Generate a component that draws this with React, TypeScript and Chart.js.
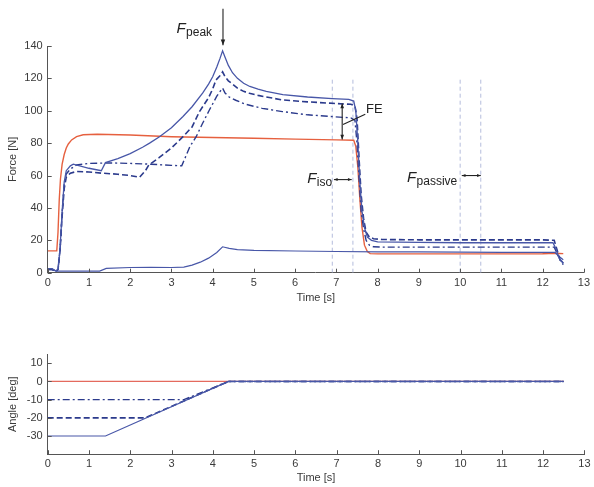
import React, { useEffect, useRef } from 'react';
import { Chart, registerables } from 'chart.js';
Chart.register(...registerables);

const FONT = '"Liberation Sans", Arial, Helvetica, sans-serif';

// ---------- Force traces (time [s], force [N]) ----------
const isoT = [0, 0.22, 0.25, 0.28, 0.31, 0.35, 0.4, 0.45, 0.5, 0.58, 0.7, 0.86, 1.2, 2, 3, 4, 5, 6, 7, 7.42, 7.47, 7.52, 7.57, 7.62, 7.68, 7.75, 7.82, 8, 9, 10, 11, 12, 12.3, 12.5];
const isoF = [13.5, 13.5, 25, 45, 58, 67, 73, 77, 79.5, 82, 84, 85.2, 85.5, 85, 84, 83.5, 83, 82.5, 82, 81.8, 78, 65, 45, 28, 17, 13, 11.8, 11.6, 11.6, 11.6, 11.6, 11.7, 12, 11.8];

const s30T = [0, 0.1, 0.2, 0.25, 0.3, 0.35, 0.4, 0.45, 0.55, 0.62, 1.0, 1.3, 1.4, 1.7, 2.0, 2.3, 2.47, 2.71, 3.0, 3.28, 3.5, 3.76, 3.9, 4.0, 4.1, 4.18, 4.24, 4.3, 4.38, 4.48, 4.6, 4.75, 4.9, 5.1, 5.3, 5.7, 6.3, 6.9, 7.3, 7.42, 7.47, 7.52, 7.57, 7.62, 7.68, 7.75, 7.85, 8.0, 9, 10, 11, 12, 12.25, 12.32, 12.4, 12.5];
const s30F = [2.5, 2.5, 1, 2, 15, 38, 56, 63, 66, 67, 64.5, 63, 68, 70.5, 73.5, 77.5, 80, 84, 89.5, 96.5, 102.5, 111, 116.5, 121, 127, 132.5, 137, 133, 128, 123.5, 120, 117, 115, 113.3, 112, 110, 108.5, 107.5, 107, 106, 100, 80, 55, 38, 28, 22, 20, 19, 18.7, 18.5, 18.5, 18.5, 18.5, 15, 9, 6];

const s20T = [0, 0.1, 0.2, 0.25, 0.3, 0.35, 0.4, 0.45, 0.55, 0.7, 1.0, 1.3, 1.7, 2.0, 2.23, 2.37, 2.45, 2.7, 3.0, 3.28, 3.5, 3.68, 3.9, 4.0, 4.08, 4.17, 4.24, 4.3, 4.38, 4.48, 4.6, 4.75, 4.89, 5.1, 5.3, 5.69, 6.3, 6.9, 7.35, 7.45, 7.5, 7.55, 7.6, 7.66, 7.72, 7.8, 7.9, 8.1, 9, 10, 11, 12, 12.28, 12.35, 12.42, 12.5];
const s20F = [2, 2, 0.8, 2, 14, 35, 52, 59, 61.5, 62.5, 62.2, 61.5, 60.8, 60, 59, 63, 66.5, 71, 77, 84, 90, 99.5, 108, 113.5, 119, 121.5, 124, 121, 118.5, 116.5, 114, 112, 110.8, 109.5, 108.5, 106.7, 105.5, 104.6, 104, 103, 95, 70, 48, 33, 25, 22, 21, 20.5, 20.3, 20.3, 20.3, 20.3, 20, 14, 8, 5];

const s10T = [0, 0.1, 0.2, 0.25, 0.3, 0.35, 0.4, 0.45, 0.55, 0.7, 1.0, 1.5, 2.0, 2.5, 3.0, 3.25, 3.35, 3.45, 3.6, 3.75, 3.92, 4.1, 4.18, 4.24, 4.3, 4.4, 4.56, 4.8, 5.2, 5.69, 6.3, 6.9, 7.35, 7.45, 7.5, 7.55, 7.6, 7.66, 7.72, 7.8, 7.9, 8.1, 9, 10, 11, 12, 12.28, 12.35, 12.42, 12.5];
const s10F = [2, 2, 0.8, 2, 14, 37, 55, 61, 64, 66.5, 67.5, 67.8, 67.5, 67, 66.3, 66, 72, 78, 84, 92, 100.5, 109, 112, 114, 111, 108.5, 106.5, 104, 101.5, 99.5, 97.5, 96.4, 95.6, 94, 80, 58, 38, 27, 20, 17, 16, 15.8, 15.8, 15.8, 15.8, 15.8, 15.8, 12, 8, 6];

const pasT = [0, 0.1, 0.2, 0.5, 1.0, 1.26, 1.42, 2.0, 2.5, 3.0, 3.3, 3.5, 3.7, 3.9, 4.1, 4.24, 4.4, 4.6, 5.0, 6, 7, 8, 9, 10, 11, 12, 12.3, 12.4, 12.5];
const pasF = [2.5, 2.5, 1, 1, 1, 1, 2.7, 3.2, 3.3, 3.2, 3.5, 4.7, 6.5, 9, 12.5, 16, 15, 14.2, 13.8, 13.4, 13.1, 12.9, 12.8, 12.7, 12.6, 12.6, 12.5, 10, 8];

// ---------- Angle traces (time [s], angle [deg]) ----------
const angIsoT = [0, 12.5];
const angIsoV = [0, 0];
const ang30T = [0, 1.4, 4.38, 12.5];
const ang30V = [-30, -30, 0, 0];
const ang20T = [0, 2.36, 4.38, 12.5];
const ang20V = [-20, -20, 0, 0];
const ang10T = [0, 3.3, 4.38, 12.5];
const ang10V = [-10, -10, 0, 0];

// ---------- Analysis windows (time [s]) ----------
const windowTimes = [6.9, 7.4, 10, 10.5];
const windowTop = 120;

// ---------- Ticks ----------
const timeTicks = [0, 1, 2, 3, 4, 5, 6, 7, 8, 9, 10, 11, 12, 13];
const forceTicks = [0, 20, 40, 60, 80, 100, 120, 140];
const angleTicks = [-30, -20, -10, 0, 10];

const zip = (t: number[], v: number[]) => t.map((x, i) => ({ x, y: v[i] }));

const RED = '#e6603f';
const BLUE_SOLID = '#4857a8';
const BLUE_DARK = '#2b3a8c';
const AXIS = '#555555';
const TXT = '#3a3a3a';

const innerTicks = {
  id: 'innerTicks',
  afterDraw(chart: any) {
    const ctx = chart.ctx;
    const xs = chart.scales.x;
    const ys = chart.scales.y;
    const a = chart.chartArea;
    ctx.save();
    ctx.strokeStyle = AXIS;
    ctx.lineWidth = 1;
    xs.ticks.forEach((t: any) => {
      const px = Math.round(xs.getPixelForValue(t.value)) + 0.5;
      ctx.beginPath();
      ctx.moveTo(px, a.bottom);
      ctx.lineTo(px, a.bottom - 4);
      ctx.stroke();
    });
    ys.ticks.forEach((t: any) => {
      const py = Math.round(ys.getPixelForValue(t.value)) + 0.5;
      ctx.beginPath();
      ctx.moveTo(a.left, py);
      ctx.lineTo(a.left + 4, py);
      ctx.stroke();
    });
    ctx.restore();
  },
};

function head(ctx: CanvasRenderingContext2D, x: number, y: number, ang: number, size: number) {
  ctx.beginPath();
  ctx.moveTo(x, y);
  ctx.lineTo(x - size * Math.cos(ang - 0.38), y - size * Math.sin(ang - 0.38));
  ctx.lineTo(x - size * Math.cos(ang + 0.38), y - size * Math.sin(ang + 0.38));
  ctx.closePath();
  ctx.fill();
}

function arrow(ctx: CanvasRenderingContext2D, x1: number, y1: number, x2: number, y2: number, startHead: boolean, endHead: boolean, size = 5) {
  ctx.beginPath();
  ctx.moveTo(x1, y1);
  ctx.lineTo(x2, y2);
  ctx.stroke();
  const ang = Math.atan2(y2 - y1, x2 - x1);
  if (endHead) head(ctx, x2, y2, ang, size);
  if (startHead) head(ctx, x1, y1, ang + Math.PI, size);
}

function subLabel(ctx: CanvasRenderingContext2D, x: number, y: number, main: string, sub: string) {
  ctx.font = `italic 15px ${FONT}`;
  ctx.textBaseline = 'alphabetic';
  ctx.textAlign = 'left';
  ctx.fillText(main, x, y);
  const w = ctx.measureText(main).width;
  ctx.font = `12px ${FONT}`;
  ctx.fillText(sub, x + w + 0.5, y + 3);
}

const annotations = {
  id: 'annotations',
  afterDraw(chart: any) {
    const ctx: CanvasRenderingContext2D = chart.ctx;
    const xs = chart.scales.x;
    const ys = chart.scales.y;
    const X = (v: number) => xs.getPixelForValue(v);
    const Y = (v: number) => ys.getPixelForValue(v);
    ctx.save();
    ctx.fillStyle = '#222';
    ctx.strokeStyle = '#222';
    ctx.lineWidth = 1.1;
    // F_peak
    arrow(ctx, X(4.25), Y(163), X(4.25), Y(140.5), false, true, 6);
    subLabel(ctx, X(3.12), Y(147.8), 'F', 'peak');
    // FE
    arrow(ctx, X(7.14), Y(104.5), X(7.14), Y(82.3), true, true, 5);
    ctx.beginPath();
    ctx.moveTo(X(7.16), Y(91.5));
    ctx.lineTo(X(7.7), Y(97.8));
    ctx.stroke();
    ctx.font = `13px ${FONT}`;
    ctx.textAlign = 'left';
    ctx.textBaseline = 'alphabetic';
    ctx.fillText('FE', X(7.72), Y(98.5));
    // F_iso
    subLabel(ctx, X(6.29), Y(55.5), 'F', 'iso');
    arrow(ctx, X(6.94), Y(57.5), X(7.37), Y(57.5), true, true, 4);
    // F_passive
    subLabel(ctx, X(8.71), Y(55.8), 'F', 'passive');
    arrow(ctx, X(10.04), Y(60), X(10.5), Y(60), true, true, 4);
    ctx.restore();
  },
};

function makeScales(opts: {
  yMin: number; yMax: number; yTicks: number[]; yTitle: string;
  xHeight: number; xPad: number; xTitlePad: number;
}) {
  const tickFont = { size: 11, family: FONT };
  return {
    x: {
      type: 'linear',
      min: 0,
      max: 13,
      afterBuildTicks: (s: any) => { s.ticks = timeTicks.map((v) => ({ value: v })); },
      afterFit: (s: any) => { s.height = opts.xHeight; },
      grid: { display: false, drawTicks: false },
      border: { display: true, color: AXIS, width: 1 },
      ticks: { color: TXT, font: tickFont, padding: opts.xPad, maxRotation: 0, autoSkip: false, callback: (v: any) => String(v) },
      title: { display: true, text: 'Time [s]', color: TXT, font: tickFont, padding: { top: 0, bottom: opts.xTitlePad } },
    },
    y: {
      type: 'linear',
      min: opts.yMin,
      max: opts.yMax,
      afterBuildTicks: (s: any) => { s.ticks = opts.yTicks.map((v) => ({ value: v })); },
      afterFit: (s: any) => { s.width = 47.7; },
      grid: { display: false, drawTicks: false },
      border: { display: true, color: AXIS, width: 1 },
      ticks: { color: TXT, font: tickFont, padding: 5, autoSkip: false, callback: (v: any) => String(v) },
      title: { display: true, text: opts.yTitle, color: TXT, font: tickFont, padding: { top: 6.5, bottom: 0 } },
    },
  };
}

function line(data: any[], color: string, width: number, dash: number[] = []) {
  return {
    data,
    borderColor: color,
    borderWidth: width,
    borderDash: dash,
    pointRadius: 0,
    fill: false,
    tension: 0,
  };
}

export default function App() {
  const topRef = useRef<HTMLCanvasElement>(null);
  const botRef = useRef<HTMLCanvasElement>(null);

  useEffect(() => {
    const guides = windowTimes.map((t) =>
      line([{ x: t, y: 0 }, { x: t, y: windowTop }], '#b4bcdc', 1, [4, 3])
    );
    const top = new Chart(topRef.current!, {
      type: 'line',
      data: {
        datasets: [
          line(zip(s30T, s30F), BLUE_SOLID, 1.3),
          line(zip(s20T, s20F), BLUE_DARK, 1.6, [6, 3]),
          line(zip(s10T, s10F), BLUE_DARK, 1.4, [7, 3, 2, 3]),
          line(zip(pasT, pasF), BLUE_SOLID, 1.2),
          line(zip(isoT, isoF), RED, 1.4),
          ...guides,
        ] as any,
      },
      options: {
        animation: false,
        responsive: false,
        layout: { padding: { top: 46, right: 7.5, left: 0, bottom: 0 } },
        plugins: { legend: { display: false }, tooltip: { enabled: false } },
        scales: makeScales({ yMin: 0, yMax: 140, yTicks: forceTicks, yTitle: 'Force [N]', xHeight: 37.3, xPad: 4, xTitlePad: 5 }) as any,
      },
      plugins: [innerTicks, annotations],
    });

    const bot = new Chart(botRef.current!, {
      type: 'line',
      data: {
        datasets: [
          line(zip(ang30T, ang30V), BLUE_SOLID, 1.2),
          line(zip(ang20T, ang20V), BLUE_DARK, 1.6, [6, 3]),
          line(zip(ang10T, ang10V), BLUE_DARK, 1.4, [7, 3, 2, 3]),
          line(zip(angIsoT, angIsoV), '#e46a5e', 1.3),
        ] as any,
      },
      options: {
        animation: false,
        responsive: false,
        layout: { padding: { top: 24.2, right: 7.5, left: 0, bottom: 0 } },
        plugins: { legend: { display: false }, tooltip: { enabled: false } },
        scales: makeScales({ yMin: -40, yMax: 15, yTicks: angleTicks, yTitle: 'Angle [deg]', xHeight: 32.8, xPad: 3.5, xTitlePad: 2.5 }) as any,
      },
      plugins: [innerTicks],
    });

    return () => {
      top.destroy();
      bot.destroy();
    };
  }, []);

  return (
    <div style={{ position: 'absolute', left: 0, top: 0, width: 594, height: 487, background: '#fff' }}>
      <canvas ref={topRef} width={594} height={310} style={{ position: 'absolute', left: 0, top: 0 }} />
      <canvas ref={botRef} width={594} height={157} style={{ position: 'absolute', left: 0, top: 330 }} />
    </div>
  );
}
